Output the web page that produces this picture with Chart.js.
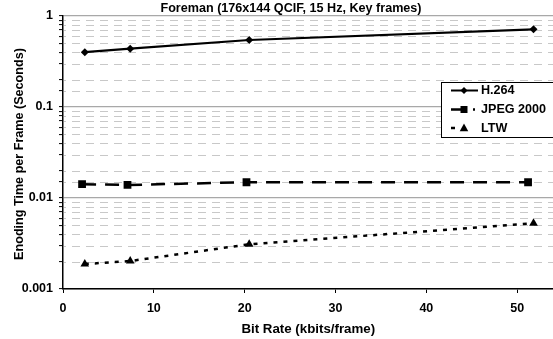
<!DOCTYPE html>
<html>
<head>
<meta charset="utf-8">
<script src="https://cdn.jsdelivr.net/npm/chart.js@4/dist/chart.umd.min.js"></script>
<style>
html,body{margin:0;padding:0;background:#fff;overflow:hidden;width:553px;height:339px;}
#wrap{position:relative;width:553px;height:339px;overflow:hidden;}
</style>
</head>
<body>
<div id="wrap"><canvas id="c" width="559" height="339"></canvas></div>
<script>
const chartTitle = "Foreman (176x144 QCIF, 15 Hz, Key frames)";
const xTitle = "Bit Rate (kbits/frame)";
const yTitle = "Enoding Time per Frame (Seconds)";
const seriesNames = ["H.264", "JPEG 2000", "LTW"];
const h264X = [2.4, 7.4, 20.5, 51.8];
const h264Y = [0.40, 0.437, 0.545, 0.714];
const jpegX = [2.1, 7.1, 20.2, 51.2];
const jpegY = [0.0142, 0.0139, 0.0149, 0.0149];
const ltwX = [2.4, 7.4, 20.5, 51.8];
const ltwY = [0.00188, 0.00203, 0.0031, 0.00527];
const xTicks = [0, 10, 20, 30, 40, 50];
const yMajorTicks = [0.001, 0.01, 0.1, 1];

const FONT = '"Liberation Sans", Arial, sans-serif';
function pts(xs, ys){ return xs.map((x,i)=>({x:x, y:ys[i]})); }
function isMajor(v){ const l = Math.log10(v); return Math.abs(l - Math.round(l)) < 1e-6; }

const drawMarker = (ctx, style, x, y, r) => {
  ctx.beginPath();
  if (style === 'rectRot') {
    ctx.moveTo(x, y - r); ctx.lineTo(x + r, y); ctx.lineTo(x, y + r); ctx.lineTo(x - r, y);
  } else if (style === 'rect') {
    ctx.rect(x - r, y - r, r*2, r*2);
  } else {
    ctx.moveTo(x, y - r); ctx.lineTo(x + r*0.95, y + r*0.7); ctx.lineTo(x - r*0.95, y + r*0.7);
  }
  ctx.closePath(); ctx.fill();
};

const extras = {
  id: 'extras',
  beforeDatasetsDraw(chart){
    const ctx = chart.ctx, a = chart.chartArea, ys = chart.scales.y;
    ctx.save();
    ctx.strokeStyle = '#c8c8c8'; ctx.lineWidth = 1;
    ctx.setLineDash([8, 6]); ctx.lineDashOffset = -8;
    ys.ticks.forEach(t => {
      if (isMajor(t.value)) return;
      const py = Math.round(ys.getPixelForValue(t.value)) + 0.5;
      ctx.beginPath(); ctx.moveTo(a.left + 1, py); ctx.lineTo(a.right, py); ctx.stroke();
    });
    ctx.restore();
  },
  afterDraw(chart){
    const ctx = chart.ctx, a = chart.chartArea;
    ctx.save();
    ctx.fillStyle = '#000';
    ctx.font = 'bold 12.6px ' + FONT;
    ctx.textAlign = 'center'; ctx.textBaseline = 'middle';
    ctx.fillText(chartTitle, 291, 9);
    ctx.font = 'bold 13.3px ' + FONT;
    ctx.fillText(xTitle, (a.left + a.right)/2, 329);
    ctx.save();
    ctx.font = 'bold 12.6px ' + FONT;
    ctx.translate(20, 154);
    ctx.rotate(-Math.PI/2);
    ctx.fillText(yTitle, 0, 0);
    ctx.restore();
    // legend
    ctx.fillStyle = '#fff'; ctx.strokeStyle = '#000'; ctx.lineWidth = 1;
    ctx.fillRect(441.5, 82.5, 130, 55);
    ctx.strokeRect(441.5, 82.5, 130, 55);
    const rows = [90.5, 109.5, 128];
    const styles = ['rectRot', 'rect', 'triangle'];
    const dashes = [[], [12, 10, 2, 10], [4, 30]];
    const widths = [2, 2.5, 2.5];
    const ends = [478, 476, 476];
    const sizes = [3.5, 3.5, 4.5];
    ctx.font = 'bold 12.6px ' + FONT;
    ctx.textAlign = 'left';
    for (let i = 0; i < 3; i++) {
      ctx.strokeStyle = '#000'; ctx.lineWidth = widths[i];
      ctx.setLineDash(dashes[i]);
      ctx.beginPath(); ctx.moveTo(451, rows[i]); ctx.lineTo(ends[i], rows[i]); ctx.stroke();
      ctx.setLineDash([]);
      ctx.fillStyle = '#000';
      drawMarker(ctx, styles[i], 464, rows[i], sizes[i]);
      ctx.fillText(seriesNames[i], 481, rows[i] + 0.5);
    }
    ctx.restore();
  }
};

new Chart(document.getElementById('c'), {
  type: 'line',
  data: {
    datasets: [
      { label: seriesNames[0], data: pts(h264X, h264Y), borderColor: '#000', backgroundColor: '#000',
        borderWidth: 2.2, pointStyle: 'rectRot', pointRadius: 4, pointBorderWidth: 0, tension: 0 },
      { label: seriesNames[1], data: pts(jpegX, jpegY), borderColor: '#000', backgroundColor: '#000',
        borderWidth: 2.5, borderDash: [14, 9], pointStyle: 'rect', pointRadius: 5.5, pointBorderWidth: 0, tension: 0 },
      { label: seriesNames[2], data: pts(ltwX, ltwY), borderColor: '#000', backgroundColor: '#000',
        borderWidth: 2.5, borderDash: [4, 6], pointStyle: 'triangle', pointRadius: 5, pointBorderWidth: 0, tension: 0 }
    ]
  },
  options: {
    responsive: false,
    animation: false,
    devicePixelRatio: 1,
    layout: { padding: { top: 16, right: 0, left: 0, bottom: 0 } },
    plugins: { legend: { display: false }, title: { display: false }, tooltip: { enabled: false } },
    scales: {
      x: {
        type: 'linear', min: 0, max: 54,
        afterBuildTicks: s => { s.ticks = xTicks.map(v => ({ value: v })); },
        afterFit: s => { s.height = 50; s.paddingRight = 0; s.paddingLeft = 0; },
        grid: { drawOnChartArea: false, drawTicks: true, tickLength: 4, tickColor: '#000', tickWidth: 1 },
        border: { color: '#000', width: 1.5 },
        ticks: { color: '#000', font: { family: FONT, size: 12.5, weight: 'bold' }, padding: 8, maxRotation: 0 }
      },
      y: {
        type: 'logarithmic', min: 0.001, max: 1,
        afterFit: s => { s.width = 63; s.paddingTop = 0; s.paddingBottom = 0; },
        grid: {
          color: c => (c.tick && isMajor(c.tick.value)) ? '#a8a8a8' : 'rgba(0,0,0,0)',
          lineWidth: 1.2, tickLength: 4, tickColor: '#000', tickWidth: 1
        },
        border: { color: '#000', width: 1.5 },
        ticks: {
          color: '#000', font: { family: FONT, size: 12.5, weight: 'bold' }, padding: 6,
          autoSkip: false,
          callback: v => yMajorTicks.some(m => Math.abs(m - v) / m < 1e-6) ? String(v) : ''
        }
      }
    }
  },
  plugins: [extras]
});
</script>
</body>
</html>
